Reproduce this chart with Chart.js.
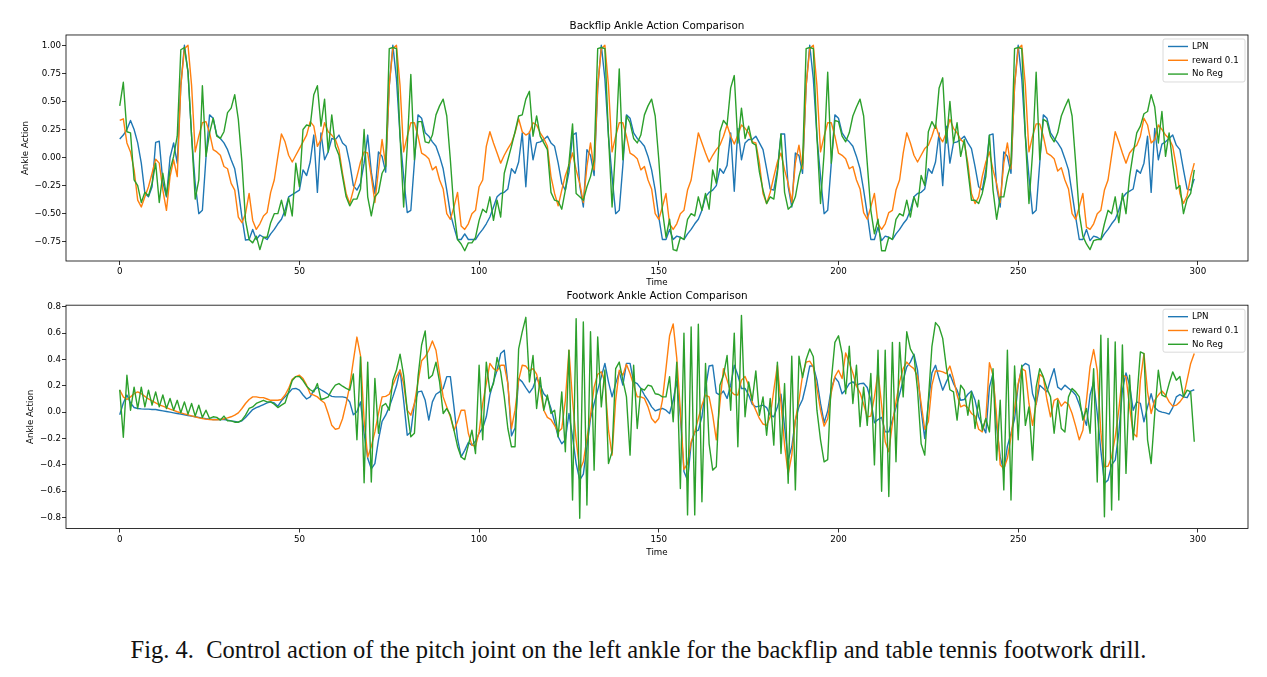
<!DOCTYPE html>
<html>
<head>
<meta charset="utf-8">
<script src="https://cdn.jsdelivr.net/npm/chart.js@4.4.0/dist/chart.umd.min.js"></script>
<style>
  html, body { margin: 0; padding: 0; background: #fff; }
  body { width: 1267px; height: 677px; position: relative; overflow: hidden; }
  canvas { position: absolute; left: 0; }
  #top { top: 0; }
  #bottom { top: 280px; }
  #caption {
    position: absolute; left: 0; width: 1277px; top: 636px; text-align: center;
    font-family: 'Liberation Serif', serif; font-size: 24.5px; line-height: 28px;
    white-space: nowrap; color: #111;
  }
</style>
</head>
<body>
<canvas id="top" width="1267" height="300"></canvas>
<canvas id="bottom" width="1267" height="320"></canvas>
<div id="caption">Fig. 4.&nbsp; Control action of the pitch joint on the left ankle for the backflip and table tennis footwork drill.</div>
<script>
// series, one value per time step (0..299)
const backflipLpn = [
  0.165,0.2,0.25,0.33,0.25,0.13,-0.05,-0.32,-0.35,-0.26,
  0.135,0.145,-0.22,-0.35,0.0,0.13,-0.05,0.64,1.0,0.76,
  0.19,-0.23,-0.5,-0.47,0.0,0.38,0.35,0.2,0.17,0.13,
  0.07,-0.02,-0.1,-0.29,-0.53,-0.735,-0.73,-0.64,-0.73,-0.69,
  -0.71,-0.73,-0.68,-0.64,-0.59,-0.55,-0.47,-0.35,-0.33,-0.31,
  -0.29,-0.11,-0.16,-0.04,0.2,-0.31,0.22,-0.02,0.05,0.17,
  0.16,0.2,0.13,0.1,-0.05,-0.25,-0.29,-0.23,-0.05,0.2,
  -0.13,-0.32,0.05,0.01,-0.13,0.64,1.0,0.7,0.19,-0.17,
  -0.49,-0.47,-0.04,0.38,0.35,0.22,0.19,0.14,0.1,0.01,
  -0.1,-0.29,-0.5,-0.62,-0.73,-0.73,-0.68,-0.73,-0.73,-0.73,
  -0.68,-0.64,-0.59,-0.53,-0.44,-0.35,-0.32,-0.31,-0.28,-0.1,
  -0.14,-0.04,0.22,-0.26,0.23,-0.02,0.13,0.14,0.16,0.19,
  0.13,0.1,-0.05,-0.23,-0.29,-0.13,0.2,0.22,-0.25,-0.44,
  0.07,0.02,-0.16,0.61,1.0,0.7,0.19,-0.17,-0.5,-0.47,
  -0.07,0.38,0.35,0.22,0.17,0.14,0.1,0.01,-0.11,-0.29,
  -0.53,-0.73,-0.73,-0.64,-0.73,-0.7,-0.71,-0.73,-0.68,-0.64,
  -0.59,-0.55,-0.47,-0.35,-0.31,-0.29,-0.25,-0.1,-0.14,-0.07,
  0.22,-0.3,0.26,-0.02,0.13,0.16,0.16,0.19,0.13,0.07,
  -0.1,-0.28,-0.29,-0.11,0.21,0.21,-0.26,-0.44,0.04,0.02,
  -0.14,0.64,1.0,0.7,0.19,-0.17,-0.5,-0.47,-0.05,0.38,
  0.35,0.22,0.17,0.14,0.1,0.01,-0.1,-0.29,-0.5,-0.73,
  -0.73,-0.62,-0.74,-0.7,-0.71,-0.73,-0.68,-0.64,-0.59,-0.55,
  -0.47,-0.35,-0.32,-0.31,-0.28,-0.1,-0.14,-0.04,0.22,-0.25,
  0.28,-0.05,0.13,0.14,0.16,0.19,0.13,0.08,-0.08,-0.26,
  -0.29,-0.11,0.2,0.21,-0.26,-0.44,0.05,0.01,-0.14,0.64,
  1.0,0.7,0.19,-0.17,-0.5,-0.47,-0.05,0.38,0.35,0.22,
  0.17,0.13,0.08,-0.01,-0.11,-0.32,-0.53,-0.73,-0.73,-0.64,
  -0.74,-0.7,-0.71,-0.73,-0.68,-0.64,-0.59,-0.55,-0.47,-0.36,
  -0.32,-0.3,-0.28,-0.11,-0.14,-0.05,0.19,-0.31,0.26,-0.02,
  0.12,0.14,0.17,0.2,0.11,0.07,-0.11,-0.28,-0.29,-0.19
];
const backflipReward = [
  0.33,0.345,0.13,0.05,-0.11,-0.38,-0.44,-0.35,-0.26,-0.14,
  -0.015,-0.05,-0.29,-0.47,-0.17,-0.02,-0.17,0.64,0.97,1.0,
  0.64,0.05,0.19,0.31,0.32,0.22,0.07,0.05,0.02,-0.08,
  -0.1,-0.23,-0.29,-0.53,-0.58,-0.5,-0.32,-0.56,-0.64,-0.59,
  -0.52,-0.49,-0.31,-0.2,0.01,0.21,0.14,0.02,-0.04,0.02,
  0.08,0.14,0.2,0.32,0.28,0.1,0.16,0.31,0.23,0.2,
  0.16,0.07,-0.14,-0.32,-0.41,-0.29,-0.17,-0.04,0.05,0.04,
  -0.17,-0.4,-0.11,0.16,-0.07,0.64,0.97,1.0,0.64,0.05,
  0.19,0.31,0.31,0.19,0.04,0.02,-0.01,-0.11,-0.08,-0.2,
  -0.28,-0.5,-0.55,-0.44,-0.31,-0.61,-0.64,-0.59,-0.5,-0.47,
  -0.26,-0.2,0.1,0.23,0.13,0.04,-0.05,0.02,0.08,0.13,
  0.22,0.345,0.23,0.2,0.22,0.31,0.29,0.22,0.17,0.1,
  -0.17,-0.32,-0.43,-0.29,-0.16,-0.07,0.04,-0.11,-0.23,-0.4,
  -0.08,0.13,-0.11,0.64,0.97,1.0,0.64,0.05,0.19,0.31,
  0.31,0.19,0.04,0.02,-0.01,-0.11,-0.08,-0.2,-0.28,-0.5,
  -0.55,-0.44,-0.32,-0.59,-0.64,-0.59,-0.5,-0.47,-0.29,-0.2,
  0.01,0.22,0.13,0.04,-0.04,0.02,0.07,0.11,0.19,0.29,
  0.19,0.12,0.2,0.29,0.26,0.22,0.14,0.13,-0.05,-0.32,
  -0.41,-0.31,-0.17,-0.04,0.04,-0.11,-0.23,-0.4,-0.05,0.11,
  -0.1,0.64,0.97,1.0,0.64,0.05,0.19,0.31,0.31,0.19,
  0.04,0.02,-0.01,-0.1,-0.08,-0.2,-0.28,-0.49,-0.55,-0.44,
  -0.32,-0.59,-0.64,-0.59,-0.49,-0.47,-0.29,-0.2,0.04,0.22,
  0.13,0.02,-0.04,0.02,0.08,0.11,0.19,0.29,0.19,0.14,
  0.22,0.34,0.26,0.22,0.16,0.13,-0.05,-0.32,-0.41,-0.35,
  -0.17,-0.04,0.05,-0.11,-0.23,-0.4,-0.05,0.13,-0.1,0.64,
  0.97,1.0,0.64,0.05,0.19,0.3,0.3,0.19,0.04,0.02,
  -0.01,-0.12,-0.09,-0.2,-0.28,-0.5,-0.55,-0.44,-0.32,-0.62,
  -0.64,-0.59,-0.5,-0.47,-0.29,-0.2,0.02,0.23,0.14,0.04,
  -0.05,0.04,0.08,0.11,0.19,0.35,0.29,0.13,0.16,0.29,
  0.25,0.2,0.17,0.1,-0.08,-0.32,-0.41,-0.34,-0.17,-0.05
];
const backflipNoReg = [
  0.46,0.67,0.23,0.22,-0.2,-0.25,-0.4,-0.31,-0.34,-0.23,
  -0.05,-0.4,-0.14,-0.34,-0.11,0.01,0.19,0.96,0.98,0.76,
  0.19,-0.37,-0.2,0.64,0.01,0.22,0.35,0.19,0.17,0.23,
  0.4,0.44,0.56,0.34,-0.04,-0.56,-0.73,-0.76,-0.7,-0.82,
  -0.71,-0.71,-0.58,-0.5,-0.5,-0.38,-0.52,-0.36,-0.52,-0.05,
  -0.26,0.25,0.29,0.28,0.56,0.64,0.28,0.52,0.05,0.38,
  0.1,0.02,-0.17,-0.35,-0.43,-0.37,-0.37,-0.28,0.25,-0.35,
  -0.52,-0.35,-0.31,-0.14,-0.08,0.97,0.98,0.97,0.19,-0.44,
  0.1,0.74,-0.02,0.32,0.32,0.14,0.13,0.2,0.38,0.46,
  0.52,0.37,-0.02,-0.47,-0.73,-0.77,-0.83,-0.76,-0.76,-0.71,
  -0.56,-0.46,-0.49,-0.35,-0.56,-0.38,-0.53,-0.14,-0.02,0.1,
  0.23,0.37,0.38,0.52,0.59,0.19,0.37,0.19,0.13,0.07,
  -0.31,-0.38,-0.39,-0.46,-0.29,-0.05,0.3,-0.32,-0.35,-0.38,
  -0.26,-0.17,-0.02,0.97,0.98,0.97,0.19,-0.44,0.1,0.79,
  -0.02,0.37,0.31,0.17,0.13,0.2,0.38,0.46,0.52,0.37,
  -0.02,-0.47,-0.71,-0.55,-0.82,-0.83,-0.71,-0.73,-0.55,-0.5,
  -0.52,-0.35,-0.47,-0.32,-0.46,-0.11,-0.23,0.23,0.33,0.29,
  0.62,0.73,0.13,0.44,0.17,0.28,0.13,0.11,-0.13,-0.29,
  -0.41,-0.35,-0.37,-0.14,0.21,-0.31,-0.46,-0.43,-0.35,-0.17,
  -0.05,0.97,0.98,0.97,0.19,-0.41,0.04,0.76,-0.05,0.33,
  0.32,0.19,0.14,0.22,0.37,0.45,0.52,0.37,-0.05,-0.47,
  -0.68,-0.55,-0.83,-0.83,-0.71,-0.73,-0.55,-0.5,-0.52,-0.38,
  -0.53,-0.35,-0.44,-0.16,-0.25,0.23,0.32,0.26,0.62,0.71,
  0.13,0.5,0.13,0.31,0.01,0.16,-0.11,-0.38,-0.38,-0.41,
  -0.32,-0.17,0.2,-0.29,-0.55,-0.35,-0.35,-0.17,-0.05,0.97,
  0.98,0.97,0.19,-0.41,0.04,0.76,-0.02,0.34,0.32,0.19,
  0.14,0.22,0.37,0.45,0.52,0.37,-0.05,-0.5,-0.7,-0.77,
  -0.82,-0.74,-0.73,-0.73,-0.59,-0.47,-0.5,-0.35,-0.58,-0.32,
  -0.5,-0.17,0.04,0.22,0.28,0.39,0.41,0.56,0.45,0.13,
  0.41,0.01,0.22,-0.05,-0.28,-0.25,-0.5,-0.37,-0.32,-0.11
];
const footworkLpn = [
  -0.02,0.07,0.13,0.07,0.035,0.028,0.025,0.023,0.023,0.02,
  0.02,0.015,0.01,0.005,0.0,-0.005,-0.01,-0.015,-0.02,-0.025,
  -0.03,-0.035,-0.04,-0.045,-0.05,-0.053,-0.056,-0.056,-0.056,-0.056,
  -0.06,-0.066,-0.07,-0.076,-0.066,-0.04,-0.01,0.02,0.035,0.045,
  0.058,0.07,0.078,0.07,0.045,0.086,0.116,0.146,0.177,0.18,
  0.167,0.13,0.1,0.116,0.167,0.187,0.17,0.154,0.136,0.12,
  0.116,0.116,0.116,0.11,0.078,-0.02,0.003,0.078,-0.16,-0.35,
  -0.43,-0.39,-0.21,-0.07,-0.023,0.04,0.116,0.2,0.32,0.09,
  -0.175,-0.15,0.066,0.154,0.16,0.09,-0.06,0.078,0.136,0.154,
  0.18,0.27,0.27,0.04,-0.2,-0.34,-0.29,-0.23,-0.25,-0.22,
  -0.16,-0.12,-0.035,0.13,0.23,0.32,0.445,0.47,0.217,-0.18,
  -0.12,0.255,0.23,0.187,0.147,0.187,0.263,0.205,0.14,0.11,
  0.028,-0.073,-0.187,-0.24,-0.21,-0.01,-0.187,-0.39,-0.516,-0.47,
  -0.263,-0.048,0.066,0.167,0.268,0.37,0.23,0.116,0.217,0.306,
  0.205,0.37,0.37,0.23,0.217,0.18,0.13,0.09,0.04,0.01,
  0.02,0.028,0.015,-0.01,0.09,0.237,-0.035,-0.45,-0.516,-0.24,
  -0.15,-0.137,-0.035,0.18,0.35,0.356,0.147,0.13,0.16,0.104,
  0.205,0.356,0.28,0.18,0.18,0.13,0.06,0.04,0.046,0.053,
  0.035,-0.023,-0.035,0.04,0.136,-0.11,-0.36,-0.263,-0.06,0.04,
  0.096,0.212,0.35,0.35,0.243,0.066,-0.08,0.01,0.18,0.263,
  0.23,0.14,0.17,0.217,0.23,0.205,0.217,0.22,0.187,0.09,
  -0.08,-0.056,-0.04,-0.15,-0.15,-0.06,0.035,0.136,0.243,0.344,
  0.38,0.44,0.318,0.015,-0.2,0.066,0.298,0.356,0.255,0.167,
  0.23,0.288,0.217,0.167,0.09,0.096,0.136,0.16,0.09,-0.035,
  -0.1,-0.157,0.19,0.293,-0.11,-0.34,-0.45,-0.26,-0.16,-0.05,
  0.205,0.344,0.37,0.356,0.14,0.06,0.205,0.18,0.154,0.248,
  0.33,0.19,0.17,0.205,0.182,0.16,0.13,0.06,-0.023,-0.1,
  0.13,0.23,-0.01,-0.29,-0.54,-0.516,-0.4,-0.364,-0.16,0.167,
  0.298,0.205,0.015,0.078,0.066,-0.073,0.04,0.14,0.035,0.01,
  0.0,-0.005,-0.015,0.035,0.116,0.134,0.116,0.11,0.16,0.17
];
const footworkReward = [
  0.167,0.116,0.096,0.116,0.14,0.154,0.14,0.12,0.1,0.086,
  0.07,0.056,0.046,0.035,0.023,0.013,0.003,-0.005,-0.013,-0.02,
  -0.028,-0.035,-0.043,-0.048,-0.053,-0.056,-0.058,-0.058,-0.056,-0.05,
  -0.043,-0.035,-0.023,-0.005,0.028,0.066,0.096,0.116,0.116,0.11,
  0.11,0.1,0.09,0.09,0.09,0.096,0.13,0.18,0.25,0.27,
  0.28,0.255,0.205,0.14,0.13,0.116,0.09,0.07,-0.01,-0.1,
  -0.13,-0.123,-0.05,0.066,0.2,0.39,0.57,0.43,-0.06,-0.34,
  -0.26,-0.15,-0.01,0.116,0.12,0.136,0.205,0.27,0.32,0.217,
  0.015,-0.023,0.066,0.23,0.39,0.42,0.47,0.54,0.47,0.29,
  0.116,0.04,-0.035,-0.137,-0.07,0.015,0.015,-0.16,-0.25,-0.26,
  -0.15,0.066,0.217,0.37,0.33,0.313,0.356,0.356,0.217,-0.124,
  0.015,0.243,0.356,0.35,0.313,0.33,0.288,0.167,0.015,-0.04,
  -0.056,-0.1,-0.15,-0.124,0.09,0.47,0.09,-0.21,-0.44,-0.377,
  -0.2,-0.023,0.19,0.288,0.306,0.23,-0.137,-0.326,0.09,0.318,
  0.28,0.364,0.293,0.205,0.116,0.116,0.104,0.04,-0.048,-0.08,
  -0.048,0.09,0.33,0.58,0.67,0.41,0.015,-0.435,-0.39,-0.225,
  -0.15,-0.048,0.053,0.13,0.116,-0.023,-0.21,0.066,0.33,0.243,
  0.16,0.134,0.13,0.243,0.27,0.205,0.078,0.015,-0.048,-0.09,
  -0.1,-0.035,0.167,0.356,0.066,-0.25,-0.47,-0.326,-0.06,0.09,
  0.28,0.38,0.387,0.344,0.18,0.015,-0.106,-0.05,0.15,0.27,
  0.318,0.255,0.45,0.375,0.298,0.197,0.147,0.06,-0.035,-0.03,
  0.116,0.306,0.053,-0.225,-0.3,-0.086,0.078,0.23,0.33,0.38,
  0.35,0.33,0.27,0.066,-0.13,-0.073,0.205,0.313,0.313,0.306,
  0.293,0.35,0.255,0.13,0.04,0.053,0.035,-0.01,-0.03,-0.13,
  -0.15,-0.048,0.375,0.28,-0.035,-0.4,-0.43,-0.35,-0.19,0.03,
  0.217,0.33,0.313,0.066,-0.1,0.066,0.288,0.263,0.096,-0.035,
  0.09,0.104,0.046,0.078,0.06,-0.01,-0.106,-0.21,-0.137,0.09,
  0.344,0.475,0.318,-0.15,-0.415,-0.41,-0.34,-0.187,0.015,0.28,
  0.27,0.04,-0.16,-0.187,0.243,0.445,0.154,-0.01,0.09,0.13,
  0.16,0.13,0.078,0.046,0.053,0.078,0.116,0.243,0.37,0.445
];
const footworkNoReg = [
  0.17,-0.19,0.28,0.015,0.19,0.028,0.19,0.04,0.167,0.053,
  0.154,0.04,0.13,0.028,0.104,0.015,0.09,-0.005,0.078,-0.015,
  0.066,-0.03,0.053,-0.04,0.015,-0.048,-0.035,-0.04,-0.06,-0.03,
  -0.066,-0.066,-0.076,-0.076,-0.06,-0.023,0.028,0.04,0.066,0.078,
  0.09,0.078,0.078,0.06,0.035,0.053,0.07,0.154,0.24,0.27,
  0.27,0.24,0.197,0.17,0.154,0.217,0.096,0.104,0.116,0.167,
  0.205,0.217,0.197,0.18,0.167,0.29,-0.21,0.42,-0.536,0.38,
  -0.53,0.255,-0.16,0.046,0.066,0.015,0.243,0.32,0.44,0.28,
  0.015,-0.187,-0.16,0.268,0.51,0.617,0.255,0.28,0.38,0.23,
  -0.01,0.028,-0.023,-0.137,-0.26,-0.34,-0.36,-0.25,-0.137,-0.314,
  0.356,-0.21,0.38,0.154,0.217,0.415,0.306,0.116,-0.124,-0.263,
  -0.263,0.48,0.61,0.72,0.23,0.43,0.028,0.263,0.015,0.13,
  -0.01,0.015,-0.187,0.154,-0.3,0.47,-0.667,0.71,-0.806,0.685,
  -0.705,0.61,-0.44,0.57,0.04,0.32,-0.39,-0.3,0.33,0.38,
  0.243,0.116,-0.326,0.356,-0.124,0.18,0.167,0.205,0.197,0.14,
  0.134,0.116,0.116,0.27,-0.073,0.38,-0.58,0.6,-0.78,0.647,
  -0.78,0.667,-0.68,0.37,-0.24,-0.44,-0.415,0.205,0.28,0.43,
  0.015,0.6,-0.263,0.735,-0.035,0.23,0.09,0.313,-0.023,0.116,
  -0.175,0.104,-0.25,0.38,-0.314,0.217,-0.54,0.425,-0.59,0.425,
  0.263,0.4,0.48,0.42,0.015,-0.21,-0.377,-0.36,0.24,0.53,
  0.58,0.445,0.14,0.5,0.066,0.356,-0.11,0.19,-0.1,0.293,
  -0.4,0.47,-0.6,0.47,-0.64,0.53,-0.377,0.53,0.116,0.61,
  0.48,0.43,0.167,-0.24,-0.326,0.09,0.5,0.68,0.647,0.56,
  0.344,0.17,0.154,-0.06,0.205,0.167,-0.023,0.154,-0.124,0.09,
  -0.137,-0.048,-0.15,0.33,-0.364,0.09,-0.59,0.47,-0.667,0.35,
  -0.21,0.356,-0.1,0.04,-0.364,0.19,0.33,0.268,0.18,0.116,
  -0.16,0.09,-0.124,-0.15,0.116,0.18,0.154,0.116,-0.06,0.028,
  -0.16,0.33,-0.53,0.584,-0.794,0.56,-0.743,0.533,-0.667,0.51,
  -0.465,0.28,-0.21,0.09,0.457,0.445,-0.21,-0.39,-0.01,0.318,
  0.13,0.116,0.217,0.306,0.243,0.27,0.116,0.167,0.154,-0.225
];

const seriesNames = ['LPN', 'reward 0.1', 'No Reg'];
const seriesColors = ['#1f77b4', '#ff7f0e', '#2ca02c'];
const timeTicks = [0, 50, 100, 150, 200, 250, 300];
const backflipTicks = [-0.75, -0.5, -0.25, 0, 0.25, 0.5, 0.75, 1.0];
const footworkTicks = [-0.8, -0.6, -0.4, -0.2, 0, 0.2, 0.4, 0.6, 0.8];

const tickFont = { family: 'DejaVu Sans', size: 8.7, lineHeight: 1.2 };
const minus = s => s.replace('-', '\u2212');

// matplotlib style: 5% margin around the data
function paddedRange(lists) {
  const all = lists.flat();
  const lo = Math.min(...all), hi = Math.max(...all);
  const pad = (hi - lo) * 0.05;
  return [lo - pad, hi + pad];
}

// box round the axes + legend in the upper right corner
const frameAndLegend = {
  id: 'frameAndLegend',
  afterDatasetsDraw(chart) {
    const { ctx, chartArea: a } = chart;
    ctx.save();
    ctx.strokeStyle = '#000';
    ctx.lineWidth = 0.8;
    ctx.strokeRect(a.left, a.top, a.right - a.left, a.bottom - a.top);

    const bx = a.right - 85, by = a.top + 4, bw = 82, bh = 43;
    ctx.beginPath();
    ctx.roundRect(bx, by, bw, bh, 2);
    ctx.fillStyle = 'rgba(255,255,255,0.8)';
    ctx.fill();
    ctx.strokeStyle = '#d0d0d0';
    ctx.stroke();
    ctx.font = '8.7px "DejaVu Sans"';
    ctx.textBaseline = 'middle';
    chart.data.datasets.forEach((ds, i) => {
      const y = by + 7.5 + i * 13.8;
      ctx.strokeStyle = ds.borderColor;
      ctx.lineWidth = 1.4;
      ctx.beginPath();
      ctx.moveTo(bx + 5, y);
      ctx.lineTo(bx + 25, y);
      ctx.stroke();
      ctx.fillStyle = '#000';
      ctx.fillText(ds.label, bx + 29, y);
    });
    ctx.restore();
  }
};

function makeChart(id, cfg) {
  const [ymin, ymax] = paddedRange(cfg.series);
  const n = cfg.series[0].length;
  return new Chart(document.getElementById(id), {
    type: 'line',
    data: {
      datasets: cfg.series.map((vals, i) => ({
        label: seriesNames[i],
        data: vals.map((v, t) => ({ x: t, y: v })),
        borderColor: seriesColors[i],
        backgroundColor: seriesColors[i],
        borderWidth: 1.4,
        borderJoinStyle: 'round',
        pointRadius: 0,
        tension: 0,
        order: 3 - i
      }))
    },
    options: {
      responsive: false,
      devicePixelRatio: 1,
      animation: false,
      layout: { padding: cfg.padding },
      plugins: {
        legend: { display: false },
        tooltip: { enabled: false },
        title: {
          display: true,
          fullSize: false,
          text: cfg.title,
          color: '#000',
          font: { family: 'DejaVu Sans', size: 10.4, weight: 'normal', lineHeight: 1.2 },
          padding: cfg.titlePadding
        }
      },
      scales: {
        x: {
          type: 'linear',
          min: -(n - 1) * 0.05,
          max: (n - 1) * 1.05,
          afterBuildTicks: s => { s.ticks = timeTicks.map(v => ({ value: v })); },
          afterFit: s => { s.height = cfg.xHeight; },
          grid: { drawOnChartArea: false, tickLength: 4, color: '#000', lineWidth: 0.8 },
          border: { display: false },
          ticks: { color: '#000', font: tickFont, padding: 2, maxRotation: 0, autoSkip: false },
          title: { display: true, text: 'Time', color: '#000', font: tickFont, padding: 0 }
        },
        y: {
          min: ymin,
          max: ymax,
          afterBuildTicks: s => { s.ticks = cfg.yTicks.map(v => ({ value: v })); },
          afterFit: s => { s.width = cfg.yWidth; },
          grid: { drawOnChartArea: false, tickLength: 4, color: '#000', lineWidth: 0.8 },
          border: { display: false },
          ticks: {
            color: '#000', font: tickFont, padding: 1,
            callback: v => minus(v.toFixed(cfg.decimals))
          },
          title: { display: true, text: 'Ankle Action', color: '#000', font: tickFont, padding: 0 }
        }
      }
    },
    plugins: [frameAndLegend]
  });
}

makeChart('top', {
  title: 'Backflip Ankle Action Comparison',
  series: [backflipLpn, backflipReward, backflipNoReg],
  yTicks: backflipTicks,
  decimals: 2,
  padding: { left: 21, right: 19, top: 0, bottom: 11.8 },
  titlePadding: { top: 20, bottom: 2.5 },
  xHeight: 27.2,
  yWidth: 45
});

makeChart('bottom', {
  title: 'Footwork Ankle Action Comparison',
  series: [footworkLpn, footworkReward, footworkNoReg],
  yTicks: footworkTicks,
  decimals: 1,
  padding: { left: 26, right: 19, top: 0, bottom: 41.8 },
  titlePadding: { top: 10.5, bottom: 2.2 },
  xHeight: 29.7,
  yWidth: 40
});
</script>
</body>
</html>
